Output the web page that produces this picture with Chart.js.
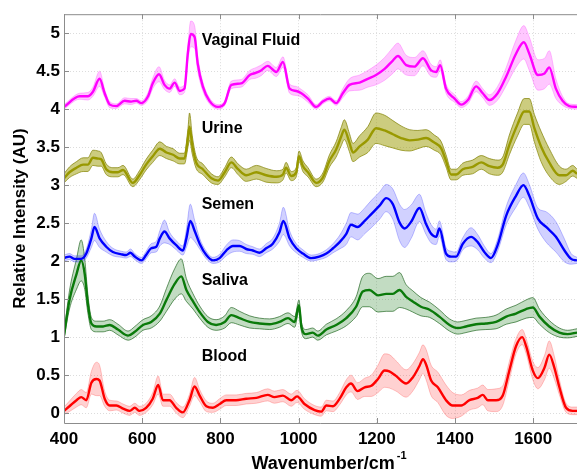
<!DOCTYPE html>
<html>
<head>
<meta charset="utf-8">
<script src="https://cdn.jsdelivr.net/npm/chart.js@4.4.1/dist/chart.umd.min.js"></script>
<style>
  html, body { margin: 0; padding: 0; background: #fff; }
  #wrap { width: 578px; height: 473px; }
</style>
</head>
<body>
<div id="wrap"><canvas id="ramanChart" width="578" height="473"></canvas></div>
<script>
// axis ticks
const xTicks = [400, 600, 800, 1000, 1200, 1400, 1600];
const yTicks = [0, 0.5, 1, 1.5, 2, 2.5, 3, 3.5, 4, 4.5, 5];

// mean spectra (offset) and standard deviation, per body fluid
const vfWn = [400,440,461,474,491,504,517,534,555,572,585,598,615,627,643,657,670,683,696,708,717,724,734,742,755,772,794,811,828,853,875,892,904,921,943,960,977,994,1007,1024,1045,1062,1079,1096,1113,1130,1156,1177,1198,1220,1241,1254,1275,1296,1318,1339,1352,1362,1377,1399,1416,1433,1454,1471,1488,1509,1531,1556,1576,1590,1612,1629,1641,1658,1675,1692,1712];
const vfMean = [4.03,4.17,4.17,4.23,4.40,4.21,4.06,4.04,4.11,4.10,4.11,4.08,4.17,4.34,4.46,4.32,4.27,4.35,4.24,4.27,4.75,4.99,4.95,4.60,4.30,4.11,4.03,4.08,4.32,4.34,4.45,4.48,4.51,4.57,4.49,4.62,4.27,4.24,4.21,4.14,4.03,4.10,4.14,4.08,4.21,4.32,4.35,4.40,4.45,4.53,4.64,4.70,4.58,4.56,4.67,4.51,4.49,4.58,4.27,4.14,4.06,4.12,4.30,4.21,4.12,4.21,4.43,4.73,4.88,4.73,4.45,4.47,4.55,4.27,4.11,4.04,4.03];
const vfSd = [0.03,0.04,0.05,0.06,0.10,0.05,0.04,0.03,0.04,0.04,0.03,0.03,0.05,0.07,0.10,0.06,0.05,0.05,0.05,0.05,0.10,0.17,0.15,0.10,0.06,0.04,0.03,0.03,0.05,0.05,0.06,0.07,0.07,0.06,0.06,0.07,0.06,0.06,0.05,0.05,0.03,0.03,0.03,0.03,0.06,0.08,0.10,0.11,0.13,0.15,0.17,0.17,0.13,0.12,0.10,0.08,0.07,0.07,0.06,0.05,0.04,0.05,0.07,0.06,0.07,0.09,0.12,0.18,0.22,0.22,0.20,0.20,0.22,0.13,0.06,0.03,0.03];

const urWn = [400,414,432,449,461,474,487,495,508,525,538,551,576,593,610,627,645,662,679,696,708,717,721,728,738,755,777,794,811,828,845,866,892,917,943,960,968,981,994,1001,1011,1024,1045,1062,1079,1096,1109,1117,1130,1139,1156,1177,1198,1220,1241,1262,1284,1305,1326,1347,1364,1377,1390,1403,1420,1445,1467,1488,1509,1522,1539,1560,1577,1590,1603,1620,1641,1667,1684,1701,1712];
const urMean = [3.09,3.17,3.23,3.27,3.27,3.36,3.35,3.34,3.21,3.17,3.17,3.20,3.03,3.13,3.27,3.38,3.48,3.43,3.40,3.35,3.35,3.62,3.77,3.53,3.30,3.21,3.09,3.06,3.17,3.30,3.21,3.13,3.17,3.13,3.11,3.14,3.23,3.12,3.17,3.38,3.25,3.17,3.03,3.10,3.32,3.47,3.64,3.73,3.56,3.43,3.51,3.60,3.75,3.72,3.67,3.62,3.59,3.60,3.62,3.56,3.49,3.32,3.14,3.14,3.21,3.24,3.30,3.25,3.23,3.27,3.53,3.80,3.97,3.97,3.75,3.51,3.30,3.13,3.13,3.19,3.15];
const urSd = [0.06,0.07,0.08,0.09,0.09,0.10,0.10,0.09,0.07,0.06,0.06,0.06,0.05,0.06,0.07,0.08,0.09,0.08,0.08,0.07,0.07,0.12,0.18,0.12,0.08,0.07,0.06,0.05,0.06,0.07,0.07,0.08,0.09,0.09,0.08,0.07,0.07,0.06,0.06,0.07,0.07,0.06,0.05,0.06,0.08,0.10,0.12,0.13,0.12,0.12,0.14,0.17,0.20,0.20,0.18,0.16,0.14,0.12,0.11,0.10,0.09,0.08,0.07,0.07,0.08,0.09,0.09,0.10,0.10,0.10,0.13,0.15,0.17,0.17,0.18,0.20,0.18,0.12,0.08,0.07,0.06];

const seWn = [400,414,427,444,457,470,478,491,508,525,547,559,570,581,598,610,623,636,645,657,670,687,704,713,723,734,747,764,781,798,815,832,849,866,883,900,917,934,951,961,977,994,1011,1032,1053,1071,1088,1105,1122,1134,1151,1169,1186,1207,1224,1241,1258,1271,1288,1309,1326,1339,1352,1360,1377,1390,1403,1420,1441,1458,1475,1492,1509,1531,1556,1575,1590,1612,1633,1658,1680,1697,1712];
const seMean = [2.04,2.06,2.03,2.03,2.10,2.30,2.45,2.30,2.19,2.12,2.09,2.08,2.11,2.06,2.01,2.08,2.17,2.19,2.30,2.39,2.30,2.21,2.14,2.30,2.53,2.40,2.23,2.08,2.01,2.04,2.14,2.20,2.20,2.16,2.14,2.11,2.17,2.23,2.38,2.53,2.30,2.17,2.10,2.04,2.06,2.10,2.17,2.25,2.36,2.48,2.45,2.53,2.62,2.73,2.83,2.75,2.51,2.43,2.52,2.70,2.49,2.36,2.32,2.43,2.10,2.06,2.06,2.23,2.32,2.25,2.12,2.04,2.21,2.60,2.86,3.00,2.86,2.56,2.45,2.32,2.14,2.03,2.01];
const seSd = [0.04,0.04,0.04,0.04,0.06,0.12,0.18,0.12,0.07,0.05,0.04,0.04,0.05,0.04,0.04,0.05,0.06,0.07,0.10,0.15,0.08,0.06,0.06,0.12,0.22,0.14,0.07,0.05,0.04,0.05,0.07,0.08,0.07,0.06,0.05,0.05,0.06,0.07,0.12,0.18,0.10,0.06,0.05,0.04,0.04,0.05,0.06,0.09,0.14,0.16,0.17,0.17,0.18,0.18,0.18,0.20,0.24,0.25,0.22,0.18,0.14,0.12,0.10,0.10,0.08,0.07,0.06,0.08,0.12,0.10,0.08,0.06,0.08,0.12,0.15,0.16,0.15,0.14,0.20,0.20,0.15,0.07,0.04];

const saWn = [400,414,432,444,453,461,470,483,500,517,538,564,581,602,623,645,662,683,700,713,730,747,768,789,811,828,849,875,900,926,951,973,990,1001,1007,1019,1036,1049,1071,1096,1122,1147,1164,1181,1203,1224,1241,1258,1275,1292,1313,1335,1360,1386,1407,1428,1454,1479,1505,1531,1556,1582,1599,1616,1641,1667,1688,1712];
const saMean = [1.02,1.49,1.83,2.01,1.83,1.44,1.18,1.14,1.14,1.16,1.10,1.02,1.07,1.16,1.20,1.31,1.49,1.70,1.80,1.62,1.47,1.33,1.20,1.16,1.20,1.29,1.25,1.20,1.18,1.17,1.20,1.25,1.20,1.42,1.14,1.04,1.06,1.02,1.10,1.16,1.25,1.40,1.60,1.62,1.55,1.57,1.57,1.62,1.53,1.47,1.40,1.36,1.27,1.16,1.12,1.14,1.17,1.18,1.20,1.27,1.31,1.37,1.39,1.27,1.14,1.06,1.04,1.06];
const saSd = [0.04,0.12,0.20,0.27,0.20,0.12,0.08,0.07,0.07,0.07,0.07,0.06,0.07,0.07,0.08,0.10,0.15,0.20,0.23,0.15,0.10,0.08,0.07,0.07,0.08,0.10,0.09,0.08,0.07,0.07,0.07,0.07,0.07,0.07,0.06,0.06,0.06,0.06,0.07,0.08,0.10,0.13,0.20,0.22,0.22,0.23,0.23,0.23,0.16,0.14,0.12,0.10,0.09,0.08,0.08,0.08,0.08,0.08,0.09,0.10,0.11,0.12,0.13,0.10,0.08,0.06,0.05,0.05];

const blWn = [400,414,432,444,457,470,483,491,504,517,534,551,568,581,593,610,627,641,653,670,687,704,721,734,747,764,781,798,815,840,866,892,921,938,960,981,996,1015,1041,1058,1071,1088,1105,1122,1134,1151,1169,1186,1203,1220,1232,1249,1275,1292,1309,1318,1326,1339,1356,1377,1394,1416,1437,1458,1471,1484,1505,1522,1539,1556,1572,1582,1599,1612,1629,1641,1654,1667,1684,1701,1712];
const blMean = [0.03,0.09,0.17,0.21,0.17,0.40,0.45,0.43,0.19,0.10,0.10,0.06,0.03,0.07,0.03,0.07,0.19,0.37,0.17,0.17,0.07,0.01,0.17,0.35,0.23,0.09,0.07,0.12,0.17,0.17,0.19,0.20,0.24,0.21,0.23,0.17,0.22,0.12,0.04,0.02,0.10,0.09,0.19,0.34,0.39,0.29,0.34,0.36,0.45,0.56,0.55,0.49,0.39,0.47,0.62,0.71,0.64,0.43,0.34,0.17,0.10,0.10,0.17,0.20,0.24,0.17,0.17,0.23,0.56,0.88,1.00,0.88,0.56,0.46,0.60,0.77,0.60,0.34,0.07,0.03,0.03];
const blSd = [0.05,0.07,0.09,0.10,0.10,0.15,0.22,0.20,0.10,0.07,0.06,0.06,0.06,0.06,0.06,0.06,0.08,0.12,0.08,0.08,0.07,0.07,0.08,0.12,0.08,0.07,0.06,0.07,0.07,0.07,0.07,0.07,0.08,0.08,0.08,0.08,0.08,0.07,0.06,0.06,0.07,0.07,0.08,0.10,0.11,0.11,0.12,0.14,0.18,0.22,0.22,0.20,0.18,0.18,0.18,0.19,0.20,0.20,0.20,0.20,0.17,0.14,0.13,0.13,0.13,0.14,0.15,0.13,0.12,0.10,0.10,0.10,0.12,0.14,0.16,0.18,0.15,0.10,0.06,0.05,0.05];

// text next to each trace: [name, wavenumber, intensity]
const traceNames = ['Vaginal Fluid', 'Urine', 'Semen', 'Saliva', 'Blood'];
const nameAt = [[752, 4.90], [752, 3.74], [752, 2.74], [752, 1.74], [752, 0.745]];

const FONT = '"Liberation Sans", Arial, Helvetica, sans-serif';

// mean line + shaded +/- sd band, three datasets per fluid
function spectrum(wn, mean, sd, line, fill, edge) {
  const up = wn.map((x, i) => ({ x: x, y: mean[i] + sd[i] }));
  const lo = wn.map((x, i) => ({ x: x, y: mean[i] - sd[i] }));
  const mid = wn.map((x, i) => ({ x: x, y: mean[i] }));
  return [
    { data: up, borderColor: edge, borderWidth: 0.8, backgroundColor: fill, fill: '+1', order: 2 },
    { data: lo, borderColor: edge, borderWidth: 0.8, fill: false, order: 2 },
    { data: mid, borderColor: line, borderWidth: 2.4, fill: false, order: 0 }
  ];
}

const datasets = [].concat(
  spectrum(vfWn, vfMean, vfSd, '#ff00ff', 'rgba(255,0,255,0.22)', 'rgba(255,0,255,0.30)'),
  spectrum(urWn, urMean, urSd, '#999900', 'rgba(153,153,0,0.50)', 'rgba(128,128,0,0.9)'),
  spectrum(seWn, seMean, seSd, '#0000ff', 'rgba(0,0,255,0.18)', 'rgba(0,0,255,0.30)'),
  spectrum(saWn, saMean, saSd, '#0a7a0a', 'rgba(0,110,0,0.24)', 'rgba(30,100,30,0.85)'),
  spectrum(blWn, blMean, blSd, '#ff0000', 'rgba(255,0,0,0.18)', 'rgba(255,0,0,0.28)')
);

// box, inward ticks, trace names and axis titles
const decorations = {
  id: 'decorations',
  afterDatasetsDraw(chart) {
    const { ctx, chartArea: a, scales: { x, y } } = chart;
    ctx.save();
    ctx.strokeStyle = '#8c8c8c';
    ctx.lineWidth = 1;
    ctx.beginPath();
    ctx.moveTo(a.left + 0.5, a.top + 0.5);
    ctx.lineTo(a.left + 0.5, a.bottom + 0.5);
    ctx.lineTo(a.right, a.bottom + 0.5);
    ctx.moveTo(a.left, a.top + 0.5);
    ctx.lineTo(a.right, a.top + 0.5);
    xTicks.forEach(v => {
      const px = Math.round(x.getPixelForValue(v)) + 0.5;
      ctx.moveTo(px, a.bottom); ctx.lineTo(px, a.bottom - 5);
      ctx.moveTo(px, a.top); ctx.lineTo(px, a.top + 5);
    });
    yTicks.forEach(v => {
      const py = Math.round(y.getPixelForValue(v)) + 0.5;
      ctx.moveTo(a.left, py); ctx.lineTo(a.left + 5, py);
    });
    ctx.stroke();

    ctx.fillStyle = '#000';
    ctx.font = 'bold 16px ' + FONT;
    ctx.textAlign = 'left';
    ctx.textBaseline = 'middle';
    traceNames.forEach((name, i) => {
      ctx.fillText(name, x.getPixelForValue(nameAt[i][0]), y.getPixelForValue(nameAt[i][1]));
    });
    ctx.restore();
  },
  afterDraw(chart) {
    const { ctx, chartArea: a } = chart;
    ctx.save();
    ctx.fillStyle = '#000';
    ctx.textBaseline = 'alphabetic';

    // y title
    ctx.font = 'bold 17px ' + FONT;
    ctx.translate(25, (a.top + a.bottom) / 2);
    ctx.rotate(-Math.PI / 2);
    ctx.textAlign = 'center';
    ctx.fillText('Relative Intensity (AU)', 0, 0);
    ctx.setTransform(1, 0, 0, 1, 0, 0);

    // x title with cm^-1 superscript
    const main = 'Wavenumber/cm', sup = '-1';
    ctx.font = 'bold 18px ' + FONT;
    const w1 = ctx.measureText(main).width;
    ctx.font = 'bold 11px ' + FONT;
    const w2 = ctx.measureText(sup).width;
    const x0 = 329 - (w1 + w2 + 2) / 2;
    ctx.textAlign = 'left';
    ctx.font = 'bold 18px ' + FONT;
    ctx.fillText(main, x0, 469);
    ctx.font = 'bold 11px ' + FONT;
    ctx.fillText(sup, x0 + w1 + 2, 459);
    ctx.restore();
  }
};

const tickFont = { family: FONT, size: 17, weight: 'bold' };

new Chart(document.getElementById('ramanChart').getContext('2d'), {
  type: 'line',
  data: { datasets: datasets },
  options: {
    responsive: false,
    animation: false,
    devicePixelRatio: 1,
    layout: { padding: { top: 10, right: 1, left: 0, bottom: 0 } },
    elements: {
      point: { radius: 0 },
      line: { cubicInterpolationMode: 'monotone' }
    },
    plugins: { legend: { display: false }, tooltip: { enabled: false } },
    scales: {
      x: {
        type: 'linear',
        min: 400,
        max: 1712,
        afterBuildTicks: s => { s.ticks = xTicks.map(v => ({ value: v })); },
        afterFit: s => { s.height = 50; },
        ticks: { color: '#000', font: tickFont, padding: 6, maxRotation: 0, callback: v => String(v) },
        grid: { color: '#dcdcdc', drawTicks: false },
        border: { display: false, dash: [1, 2] }
      },
      y: {
        type: 'linear',
        min: -0.13,
        max: 5.25,
        afterBuildTicks: s => { s.ticks = yTicks.map(v => ({ value: v })); },
        afterFit: s => { s.width = 64; },
        ticks: { color: '#000', font: tickFont, padding: 4, callback: v => String(v) },
        grid: { color: '#dcdcdc', drawTicks: false },
        border: { display: false, dash: [1, 2] }
      }
    }
  },
  plugins: [decorations]
});
</script>
</body>
</html>
